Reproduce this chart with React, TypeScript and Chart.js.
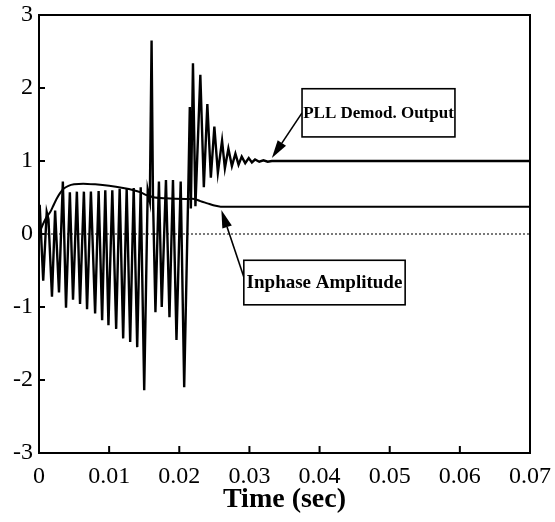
import React, { useEffect, useRef } from "react";
import { Chart, registerables } from "chart.js";

Chart.register(...registerables);

// PLL demodulator output: time (ms) and value
const pllTimeMs = [
  0, 0.1, 0.6, 1.1, 1.35, 1.85, 2.3, 2.85, 3.4, 3.85, 4.4, 4.85, 5.4, 5.85, 6.4, 6.85,
  7.4, 8.0, 8.5, 9.0, 9.45, 9.9, 10.45, 11.0, 11.5, 12.0, 12.5, 13.0, 13.5, 14.0, 14.5,
  15.0, 15.5, 15.8, 16.05, 16.25, 16.6, 17.1, 17.5, 18.1, 18.6, 19.1, 19.6, 20.2, 20.7,
  21.3, 21.5, 21.65, 21.95, 22.3, 23.0, 23.5, 24.0, 24.5, 25.0, 25.5, 26.1, 26.5, 27.0,
  27.5, 28.0, 28.45, 28.9, 29.4, 29.9, 30.35, 30.8, 31.4, 32.0, 32.6, 33.2, 70,
];
const pllValue = [
  0, 0.4, -0.64, 0.3, 0.2, -0.86, 0.32, -0.8, 0.72, -1.01, 0.57, -0.9, 0.58, -0.96, 0.58, -1.03,
  0.58, -1.09, 0.59, -1.18, 0.6, -1.25, 0.6, -1.3, 0.62, -1.43, 0.62, -1.48, 0.63, -1.55, 0.64,
  -2.14, 0.6, 0.45, 2.65, 0.5, -1.07, 0.72, -1.0, 0.74, -1.14, 0.74, -1.45, 0.72, -2.1,
  0.7, 1.74, 0.35, 2.34, 0.38, 2.18, 0.64, 1.78, 0.77, 1.47, 0.84, 1.28, 0.9, 1.17,
  0.93, 1.1, 0.95, 1.06, 0.97, 1.04, 0.98, 1.02, 0.99, 1.01, 0.99, 1.0, 1.0,
];

// Inphase amplitude: time (ms) and value
const ampTimeMs = [
  0, 0.5, 1.0, 1.6, 2.0, 2.5, 3.0, 3.5, 4.2, 5.0, 6.3, 8.0, 10.0, 12.0, 13.5, 14.5, 15.4,
  16.5, 18.0, 21.0, 22.2, 23.0, 24.0, 25.0, 25.9, 70,
];
const ampValue = [
  0, 0.12, 0.22, 0.3, 0.38, 0.48, 0.56, 0.62, 0.66, 0.68, 0.69, 0.68, 0.66, 0.63, 0.6, 0.57, 0.53,
  0.5, 0.49, 0.48, 0.48, 0.45, 0.42, 0.39, 0.375, 0.375,
];

const xTickValues = [0, 0.01, 0.02, 0.03, 0.04, 0.05, 0.06, 0.07];
const xTickLabels = ["0", "0.01", "0.02", "0.03", "0.04", "0.05", "0.06", "0.07"];
const yTickValues = [-3, -2, -1, 0, 1, 2, 3];
const yTickLabels = ["-3", "-2", "-1", "0", "1", "2", "3"];

const xTitle = "Time (sec)";
const pllLabel = "PLL Demod. Output";
const ampLabel = "Inphase Amplitude";

// annotation anchors in data coordinates (time in ms)
const pllBox = { x0: 37.5, x1: 59.3, y0: 1.99, y1: 1.33 };
const pllArrow = { fromX: 37.5, fromY: 1.66, toX: 33.2, toY: 1.04 };
const ampBox = { x0: 29.2, x1: 52.2, y0: -0.36, y1: -0.97 };
const ampArrow = { fromX: 29.2, fromY: -0.59, toX: 26.0, toY: 0.33 };

const SERIF = "'Liberation Serif', 'Times New Roman', serif";

function drawArrow(ctx: CanvasRenderingContext2D, x1: number, y1: number, x2: number, y2: number, len: number, half: number) {
  const ang = Math.atan2(y2 - y1, x2 - x1);
  const bx = x2 - len * Math.cos(ang);
  const by = y2 - len * Math.sin(ang);
  ctx.beginPath();
  ctx.moveTo(x1, y1);
  ctx.lineTo(bx, by);
  ctx.stroke();
  ctx.beginPath();
  ctx.moveTo(x2, y2);
  ctx.lineTo(bx + half * Math.sin(ang), by - half * Math.cos(ang));
  ctx.lineTo(bx - half * Math.sin(ang), by + half * Math.cos(ang));
  ctx.closePath();
  ctx.fill();
}

const decorPlugin = {
  id: "decor",
  beforeDatasetsDraw(chart: any) {
    const { ctx, chartArea: a, scales } = chart;
    const y0 = scales.y.getPixelForValue(0);
    ctx.save();
    ctx.strokeStyle = "#222";
    ctx.lineWidth = 1.2;
    ctx.setLineDash([2, 2]);
    ctx.beginPath();
    ctx.moveTo(a.left, y0);
    ctx.lineTo(a.right, y0);
    ctx.stroke();
    ctx.restore();
  },
  afterDatasetsDraw(chart: any) {
    const { ctx, chartArea: a, scales } = chart;
    const xs = scales.x;
    const ys = scales.y;
    ctx.save();
    ctx.strokeStyle = "#000";
    ctx.fillStyle = "#000";
    ctx.lineWidth = 2;
    ctx.strokeRect(a.left, a.top, a.right - a.left, a.bottom - a.top);
    ctx.beginPath();
    xTickValues.forEach((v) => {
      const px = xs.getPixelForValue(v);
      ctx.moveTo(px, a.bottom);
      ctx.lineTo(px, a.bottom - 7);
    });
    yTickValues.forEach((v) => {
      const py = ys.getPixelForValue(v);
      ctx.moveTo(a.left, py);
      ctx.lineTo(a.left + 6, py);
    });
    ctx.stroke();

    const boxes = [
      { box: pllBox, arrow: pllArrow, text: pllLabel, size: 17 },
      { box: ampBox, arrow: ampArrow, text: ampLabel, size: 19 },
    ];
    boxes.forEach(({ box, arrow, text, size }) => {
      const bx0 = xs.getPixelForValue(box.x0 / 1000);
      const bx1 = xs.getPixelForValue(box.x1 / 1000);
      const by0 = ys.getPixelForValue(box.y0);
      const by1 = ys.getPixelForValue(box.y1);
      ctx.lineWidth = 1.6;
      drawArrow(
        ctx,
        xs.getPixelForValue(arrow.fromX / 1000),
        ys.getPixelForValue(arrow.fromY),
        xs.getPixelForValue(arrow.toX / 1000),
        ys.getPixelForValue(arrow.toY),
        18,
        5
      );
      ctx.fillStyle = "#fff";
      ctx.fillRect(bx0, by0, bx1 - bx0, by1 - by0);
      ctx.strokeRect(bx0, by0, bx1 - bx0, by1 - by0);
      ctx.fillStyle = "#000";
      ctx.font = `bold ${size}px ${SERIF}`;
      ctx.textAlign = "center";
      ctx.textBaseline = "middle";
      ctx.fillText(text, (bx0 + bx1) / 2, (by0 + by1) / 2 + 1);
    });
    ctx.restore();
  },
};

const zeroPad = (s: any) => {
  s.paddingLeft = 0;
  s.paddingRight = 0;
  s.paddingTop = 0;
  s.paddingBottom = 0;
};

export default function App() {
  const canvasRef = useRef<HTMLCanvasElement | null>(null);

  useEffect(() => {
    const canvas = canvasRef.current;
    if (!canvas) return;
    const pllData = pllTimeMs.map((t, i) => ({ x: t / 1000, y: pllValue[i] }));
    const ampData = ampTimeMs.map((t, i) => ({ x: t / 1000, y: ampValue[i] }));
    const chart = new Chart(canvas, {
      type: "line",
      data: {
        datasets: [
          {
            label: pllLabel,
            data: pllData,
            borderColor: "#000",
            borderWidth: 2.4,
            pointRadius: 0,
            tension: 0,
            fill: false,
          },
          {
            label: ampLabel,
            data: ampData,
            borderColor: "#000",
            borderWidth: 2,
            pointRadius: 0,
            tension: 0.3,
            fill: false,
          },
        ],
      },
      options: {
        animation: false,
        responsive: false,
        maintainAspectRatio: false,
        layout: { padding: { top: 15, right: 25, left: 0, bottom: 0 } },
        plugins: {
          legend: { display: false },
          tooltip: { enabled: false },
        },
        scales: {
          x: {
            type: "linear",
            min: 0,
            max: 0.07,
            grid: { display: false, drawTicks: false },
            border: { display: false },
            afterBuildTicks: (s: any) => {
              s.ticks = xTickValues.map((v) => ({ value: v }));
            },
            afterFit: (s: any) => {
              s.height = 69;
              zeroPad(s);
            },
            ticks: {
              autoSkip: false,
              maxRotation: 0,
              padding: 9,
              color: "#000",
              font: { family: SERIF, size: 24 },
              callback: (v: any) => {
                const i = xTickValues.findIndex((t) => Math.abs(t - v) < 1e-9);
                return i >= 0 ? xTickLabels[i] : "";
              },
            },
            title: {
              display: true,
              text: xTitle,
              color: "#000",
              font: { family: SERIF, size: 28, weight: "bold" },
              padding: { top: 0, bottom: 5 },
            },
          },
          y: {
            type: "linear",
            min: -3,
            max: 3,
            grid: { display: false, drawTicks: false },
            border: { display: false },
            afterBuildTicks: (s: any) => {
              s.ticks = yTickValues.map((v) => ({ value: v }));
            },
            afterFit: (s: any) => {
              s.width = 39;
              zeroPad(s);
            },
            ticks: {
              autoSkip: false,
              padding: 6,
              color: "#000",
              font: { family: SERIF, size: 24 },
              callback: (v: any) => {
                const i = yTickValues.findIndex((t) => Math.abs(t - v) < 1e-9);
                return i >= 0 ? yTickLabels[i] : "";
              },
            },
          },
        },
      },
      plugins: [decorPlugin],
    });
    return () => chart.destroy();
  }, []);

  return (
    <div style={{ position: "absolute", left: 0, top: 0, width: 555, height: 522, background: "#fff" }}>
      <canvas ref={canvasRef} width={555} height={522} style={{ display: "block" }} />
    </div>
  );
}
